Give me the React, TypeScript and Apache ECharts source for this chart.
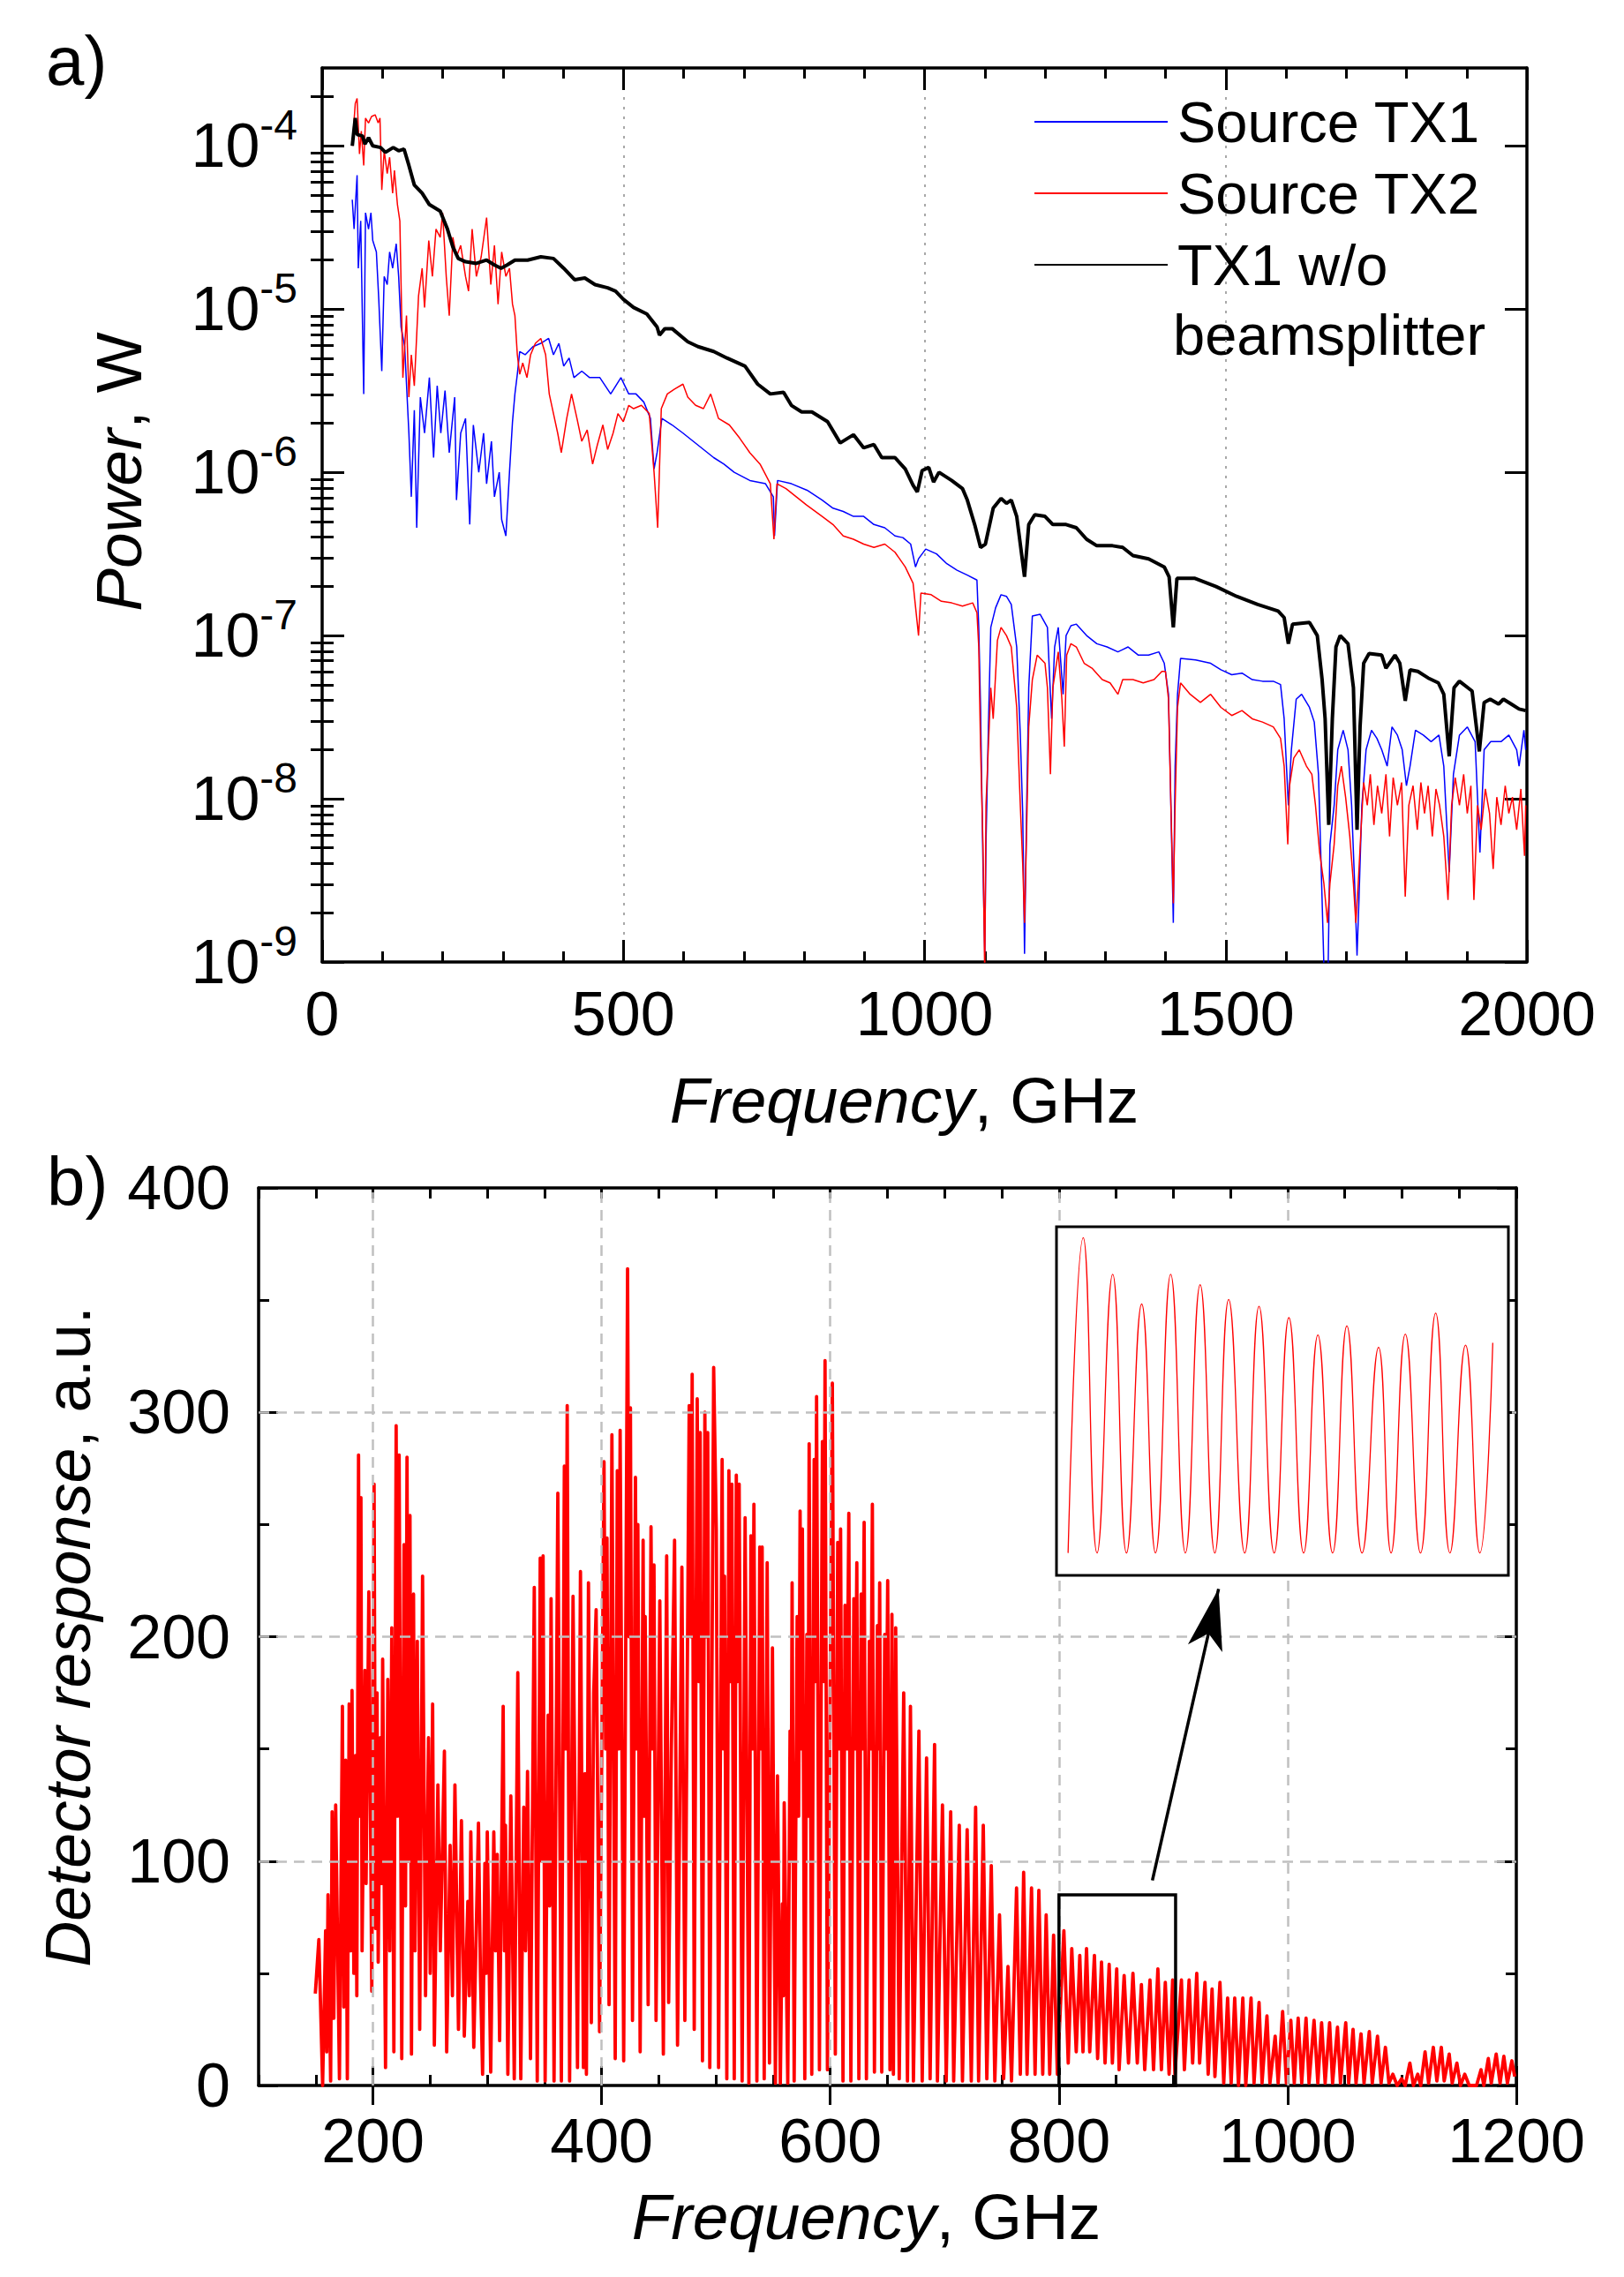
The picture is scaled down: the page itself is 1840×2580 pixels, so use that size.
import { useEffect, useRef } from 'react';
import * as echarts from 'echarts';

const FONT = "'Liberation Sans', Arial, Helvetica, sans-serif";

// ---------- Panel a: [frequency GHz, log10(power / W)] ----------
const tx1: [number, number][] = [
  [50,-4.33],[53,-4.51],[58,-4.18],[60,-4.75],[64,-4.46],[69,-5.52],[72,-4.41],[77,-4.51],[81,-4.41],[84,-4.58],
  [90,-4.65],[94,-4.94],[99,-5.38],[103,-4.80],[108,-4.85],[112,-4.65],[117,-4.75],[123,-4.60],[127,-4.80],[131,-5.11],
  [137,-5.23],[144,-5.76],[148,-6.15],[153,-5.62],[157,-6.34],[163,-5.54],[170,-5.76],[178,-5.42],[185,-5.91],[191,-5.47],
  [197,-5.76],[204,-5.50],[211,-5.88],[220,-5.54],[223,-6.17],[230,-5.76],[238,-5.67],[245,-6.32],[251,-5.71],[260,-6.00],
  [268,-5.76],[273,-6.07],[281,-5.81],[286,-6.15],[294,-6.00],[298,-6.29],[305,-6.39],[311,-6.00],[316,-5.69],[320,-5.52],
  [324,-5.40],[328,-5.26],[337,-5.28],[350,-5.23],[363,-5.21],[376,-5.18],[384,-5.28],[393,-5.21],[401,-5.35],[410,-5.30],
  [418,-5.42],[431,-5.38],[444,-5.42],[461,-5.42],[479,-5.52],[496,-5.42],[509,-5.52],[521,-5.52],[534,-5.57],[545,-5.67],
  [551,-5.98],[556,-5.88],[564,-5.67],[581,-5.71],[599,-5.76],[616,-5.81],[633,-5.86],[650,-5.91],[667,-5.95],[684,-6.00],
  [710,-6.05],[736,-6.07],[749,-6.15],[751,-6.39],[756,-6.05],[779,-6.07],[805,-6.11],[830,-6.17],[848,-6.22],[865,-6.24],
  [882,-6.27],[899,-6.27],[916,-6.32],[934,-6.34],[951,-6.39],[964,-6.40],[977,-6.44],[985,-6.58],[990,-6.53],[1002,-6.47],
  [1020,-6.50],[1037,-6.56],[1054,-6.60],[1071,-6.63],[1087,-6.66],[1090,-6.95],[1093,-7.44],[1097,-8.40],[1100,-8.95],[1102,-8.28],
  [1106,-7.56],[1110,-6.95],[1118,-6.83],[1127,-6.75],[1136,-6.76],[1144,-6.81],[1153,-7.07],[1159,-7.61],[1163,-8.09],[1166,-8.95],
  [1169,-8.16],[1173,-7.32],[1179,-6.88],[1192,-6.87],[1204,-6.95],[1209,-7.36],[1211,-7.51],[1216,-7.07],[1222,-6.95],[1230,-7.36],
  [1235,-7.00],[1243,-6.94],[1252,-6.93],[1269,-7.00],[1286,-7.05],[1303,-7.07],[1321,-7.10],[1338,-7.07],[1355,-7.12],[1372,-7.12],
  [1389,-7.10],[1398,-7.17],[1405,-7.36],[1409,-8.04],[1413,-8.76],[1416,-7.80],[1420,-7.36],[1425,-7.14],[1450,-7.15],[1475,-7.17],
  [1492,-7.21],[1510,-7.24],[1527,-7.23],[1544,-7.27],[1561,-7.28],[1579,-7.28],[1591,-7.30],[1597,-7.51],[1604,-8.04],[1609,-7.70],
  [1617,-7.39],[1626,-7.36],[1639,-7.44],[1647,-7.53],[1654,-7.85],[1660,-8.62],[1665,-9.30],[1669,-9.30],[1673,-8.28],[1680,-8.04],
  [1686,-7.70],[1695,-7.58],[1703,-7.70],[1709,-8.04],[1714,-8.52],[1718,-8.96],[1721,-8.64],[1726,-8.04],[1733,-7.70],[1742,-7.58],
  [1751,-7.63],[1759,-7.70],[1768,-7.80],[1776,-7.56],[1785,-7.61],[1793,-7.70],[1800,-7.92],[1806,-7.80],[1815,-7.58],[1828,-7.61],
  [1841,-7.65],[1854,-7.61],[1862,-7.80],[1871,-8.45],[1878,-7.85],[1888,-7.61],[1901,-7.56],[1914,-7.65],[1922,-8.33],[1929,-7.70],
  [1940,-7.65],[1957,-7.65],[1970,-7.61],[1983,-7.70],[1987,-7.80],[1995,-7.58],[1998,-7.70],
];

const tx2: [number, number][] = [
  [50,-4.00],[55,-3.74],[58,-3.71],[62,-4.05],[65,-3.91],[69,-4.12],[72,-3.83],[77,-3.86],[82,-3.82],[88,-3.81],
  [93,-3.86],[96,-3.83],[99,-4.27],[103,-4.03],[108,-4.17],[112,-4.07],[117,-4.29],[120,-4.15],[125,-4.36],[129,-4.46],
  [134,-5.42],[140,-5.04],[144,-5.54],[148,-5.28],[153,-5.47],[160,-4.92],[166,-4.75],[170,-4.99],[177,-4.58],[183,-4.80],
  [189,-4.51],[196,-4.56],[200,-4.41],[206,-4.80],[211,-5.04],[217,-4.56],[223,-4.68],[230,-4.61],[238,-4.80],[243,-4.89],
  [249,-4.51],[256,-4.80],[264,-4.68],[273,-4.44],[280,-4.85],[286,-4.61],[292,-4.97],[298,-4.65],[305,-4.80],[311,-4.75],
  [316,-4.97],[320,-5.04],[324,-5.28],[328,-5.40],[333,-5.33],[340,-5.42],[346,-5.28],[354,-5.21],[363,-5.18],[371,-5.28],
  [377,-5.52],[384,-5.64],[391,-5.76],[397,-5.88],[406,-5.67],[414,-5.52],[423,-5.67],[431,-5.81],[440,-5.74],[449,-5.95],
  [457,-5.83],[466,-5.71],[474,-5.86],[483,-5.76],[491,-5.64],[500,-5.69],[509,-5.59],[517,-5.61],[530,-5.59],[543,-5.64],
  [551,-6.00],[557,-6.34],[563,-5.61],[573,-5.52],[585,-5.49],[599,-5.46],[607,-5.54],[620,-5.59],[633,-5.61],[645,-5.52],
  [658,-5.67],[676,-5.71],[693,-5.79],[710,-5.88],[727,-5.95],[744,-6.07],[750,-6.41],[755,-6.07],[770,-6.10],[787,-6.15],
  [804,-6.20],[830,-6.27],[848,-6.32],[865,-6.39],[882,-6.41],[899,-6.44],[916,-6.46],[934,-6.44],[951,-6.49],[968,-6.58],
  [981,-6.68],[990,-7.00],[994,-6.74],[1011,-6.75],[1028,-6.79],[1045,-6.80],[1063,-6.82],[1080,-6.80],[1087,-6.86],[1090,-7.07],
  [1093,-7.68],[1097,-8.28],[1100,-9.10],[1102,-8.04],[1106,-7.68],[1110,-7.32],[1114,-7.51],[1121,-7.03],[1127,-6.95],[1136,-7.00],
  [1144,-7.07],[1153,-7.44],[1159,-8.04],[1163,-8.40],[1166,-8.76],[1169,-8.28],[1173,-7.56],[1179,-7.27],[1187,-7.12],[1200,-7.17],
  [1204,-7.32],[1209,-7.85],[1213,-7.32],[1222,-7.10],[1228,-7.39],[1232,-7.68],[1236,-7.12],[1243,-7.05],[1252,-7.07],[1265,-7.17],
  [1278,-7.20],[1295,-7.27],[1308,-7.29],[1321,-7.36],[1329,-7.27],[1346,-7.27],[1363,-7.29],[1381,-7.27],[1394,-7.22],[1400,-7.22],
  [1405,-7.39],[1409,-8.04],[1413,-8.64],[1416,-8.04],[1420,-7.44],[1425,-7.29],[1441,-7.36],[1458,-7.41],[1475,-7.36],[1492,-7.44],
  [1510,-7.49],[1527,-7.46],[1544,-7.51],[1561,-7.53],[1579,-7.56],[1591,-7.63],[1597,-7.80],[1603,-8.28],[1606,-7.92],[1613,-7.75],
  [1622,-7.70],[1634,-7.80],[1643,-7.85],[1649,-8.04],[1656,-8.33],[1663,-8.52],[1669,-8.76],[1673,-8.52],[1680,-8.28],[1686,-7.92],
  [1692,-7.80],[1699,-7.99],[1706,-8.23],[1712,-8.52],[1716,-8.76],[1720,-8.52],[1725,-8.16],[1729,-7.90],[1735,-8.04],[1740,-7.85],
  [1746,-8.16],[1752,-7.92],[1759,-8.09],[1766,-7.85],[1772,-8.23],[1778,-7.87],[1785,-8.04],[1792,-7.90],[1798,-8.60],[1804,-8.04],
  [1811,-7.92],[1818,-8.19],[1824,-7.90],[1830,-8.09],[1836,-7.92],[1843,-8.23],[1849,-7.94],[1855,-8.04],[1862,-8.23],[1869,-8.62],
  [1875,-8.04],[1881,-7.87],[1888,-8.04],[1895,-7.85],[1901,-8.09],[1907,-7.92],[1912,-8.62],[1918,-8.04],[1924,-8.19],[1931,-7.94],
  [1938,-8.09],[1944,-8.43],[1950,-7.99],[1957,-8.16],[1964,-7.92],[1970,-8.09],[1976,-7.99],[1983,-8.19],[1990,-7.94],[1996,-8.35],
  [1998,-8.04],
];

const tx1NoSplitter: [number, number][] = [
  [50,-4.00],[55,-3.83],[58,-3.93],[67,-3.94],[71,-3.99],[77,-3.95],[84,-4.00],[97,-4.01],[105,-4.04],[118,-4.01],
  [127,-4.03],[136,-4.02],[144,-4.12],[153,-4.24],[166,-4.29],[178,-4.36],[196,-4.40],[208,-4.51],[217,-4.62],[226,-4.69],
  [238,-4.71],[256,-4.72],[273,-4.70],[286,-4.73],[297,-4.75],[307,-4.73],[320,-4.70],[341,-4.70],[363,-4.68],[384,-4.69],
  [401,-4.75],[419,-4.82],[436,-4.81],[453,-4.85],[474,-4.87],[487,-4.89],[500,-4.94],[517,-4.99],[539,-5.03],[556,-5.11],
  [560,-5.16],[569,-5.12],[581,-5.12],[607,-5.20],[624,-5.23],[650,-5.26],[672,-5.30],[702,-5.35],[723,-5.46],[744,-5.52],
  [766,-5.51],[779,-5.59],[796,-5.63],[813,-5.63],[839,-5.69],[860,-5.82],[882,-5.77],[899,-5.85],[916,-5.83],[929,-5.91],
  [951,-5.91],[968,-5.98],[981,-6.08],[988,-6.12],[996,-5.99],[1007,-5.97],[1015,-6.06],[1024,-6.00],[1045,-6.05],[1063,-6.10],
  [1071,-6.17],[1084,-6.33],[1093,-6.46],[1101,-6.44],[1114,-6.22],[1127,-6.16],[1136,-6.19],[1144,-6.17],[1153,-6.27],[1166,-6.64],
  [1173,-6.32],[1183,-6.26],[1200,-6.27],[1213,-6.32],[1235,-6.32],[1252,-6.34],[1269,-6.41],[1286,-6.45],[1312,-6.45],[1329,-6.46],
  [1346,-6.51],[1372,-6.53],[1398,-6.58],[1406,-6.64],[1413,-6.95],[1419,-6.65],[1449,-6.65],[1484,-6.70],[1518,-6.76],[1553,-6.81],
  [1587,-6.85],[1597,-6.89],[1604,-7.05],[1611,-6.93],[1639,-6.92],[1652,-7.00],[1660,-7.27],[1665,-7.51],[1671,-8.16],[1677,-7.51],
  [1683,-7.07],[1690,-7.00],[1703,-7.05],[1712,-7.32],[1718,-8.19],[1723,-7.56],[1729,-7.17],[1738,-7.11],[1759,-7.12],[1766,-7.20],
  [1781,-7.12],[1789,-7.17],[1798,-7.40],[1806,-7.21],[1819,-7.22],[1836,-7.26],[1853,-7.29],[1862,-7.36],[1871,-7.74],[1879,-7.32],
  [1888,-7.28],[1909,-7.34],[1921,-7.71],[1929,-7.41],[1939,-7.39],[1953,-7.42],[1961,-7.39],[1974,-7.42],[1987,-7.45],[1998,-7.46],
];

const powerTicks = [1e-9, 1e-8, 1e-7, 1e-6, 1e-5, 1e-4];
const powerGrid = [1e-8, 1e-7, 1e-6, 1e-5, 1e-4];
const powerMinorTicks: number[] = [];
for (let e = -9; e <= -4; e++) {
  for (let k = 2; k <= 9; k++) {
    const v = k * Math.pow(10, e);
    if (v < 3e-4) powerMinorTicks.push(v);
  }
}

// ---------- Panel b: [frequency GHz, detector response a.u.] ----------
const response: [number, number][] = [
  [149.6,41],[152.7,65],[156,0],[158.6,69],[159.6,15],[160.7,85],[163,2],[164.3,122],[165.8,30],[167.4,125],
  [170.7,3],[173.3,169],[174.5,35],[176.1,145],[177.6,3],[179.2,170],[180.5,60],[181.7,176],[183.3,50],[184.8,147],
  [185.9,40],[187.4,281],[188.5,120],[189.5,262],[190.5,60],[193,185],[194,90],[196.4,220],[199,42],[201,268],
  [202.3,70],[203.6,175],[204.6,55],[206.5,155],[207.5,90],[208.5,190],[211,8],[213,181],[214.7,60],[216.5,204],
  [218.3,15],[220.3,294],[221.6,120],[222.9,281],[225.2,12],[227.2,241],[228.5,80],[229.8,280],[231,100],[232.4,254],
  [233.7,14],[235.5,219],[236.8,60],[238.8,198],[240.9,25],[243.4,227],[246,40],[248.6,155],[250.1,50],[252.2,170],
  [253.7,18],[256.8,134],[258.9,60],[262.5,149],[264.5,15],[267.5,107],[269.5,40],[271.7,134],[274.8,25],[277.4,118],
  [279.9,22],[283,82],[284.3,40],[285.6,113],[288.2,17],[292.3,117],[294,50],[295.9,5],[297.9,99],[299,50],
  [300,113],[303,6],[305.7,113],[307.2,60],[308.7,103],[310.8,20],[313.9,169],[315,60],[315.9,116],[318,5],
  [320.6,129],[323.6,3],[326.7,184],[329.3,3],[331.9,124],[333.5,60],[335.2,140],[337.8,12],[341.1,222],[343.7,2],
  [346.3,235],[347.5,100],[348.8,236],[350.6,2],[353.2,165],[354.5,80],[355.8,217],[358.4,2],[361.7,264],[364.8,2],
  [367.4,276],[368.6,150],[369.9,303],[372,2],[375,218],[378.9,8],[381.5,229],[384.1,8],[385.4,139],[386.7,5],
  [388.5,224],[391,28],[393.1,175],[395.2,212],[398.2,24],[402.1,278],[403.5,150],[404.7,244],[406.5,36],[409,290],
  [411.9,12],[413.7,274],[415,150],[416.2,292],[419.3,11],[422.7,364],[424,200],[425.2,302],[427,29],[429.6,271],
  [430.7,150],[431.7,250],[433.7,15],[436.3,243],[437.2,120],[438.1,209],[440.7,36],[443.2,249],[444.5,150],[445.8,232],
  [447.6,29],[450.9,216],[454,14],[456.9,236],[458.6,37],[461,150],[463.8,243],[466.4,18],[470.2,231],[472.8,29],
  [476.6,303],[478,200],[479.2,317],[481,25],[483.6,306],[485,180],[486.2,291],[488.2,11],[490.3,300],[491.5,200],
  [492.8,291],[494.6,8],[498,320],[500.3,248],[502.3,8],[505.4,279],[506.5,150],[507.5,227],[509.5,3],[511.3,274],
  [512.6,180],[513.9,268],[516,3],[517.8,272],[519,180],[520.3,268],[522.9,2],[525.5,253],[528.8,1],[530.6,245],
  [532,150],[533.2,259],[535.8,2],[538.3,240],[539.4,150],[540.4,240],[542.2,3],[544.8,233],[546.8,10],[549.4,195],
  [552,1],[553.8,138],[556.3,1],[558.1,81],[559,40],[559.7,126],[562.8,1],[564.8,158],[565.7,100],[566.6,224],
  [568.4,2],[571,209],[572.3,120],[573.6,256],[574.6,150],[575.6,248],[577.7,3],[579.5,201],[580.5,120],[581.5,286],
  [583.8,5],[585.9,279],[587,180],[588,307],[590.5,7],[593.1,287],[594.3,180],[595.4,323],[597.5,7],[601.8,313],
  [604.4,14],[606.5,242],[607.8,150],[609,248],[611.1,2],[612.9,214],[614.5,150],[616.2,255],[618,2],[620.6,217],
  [621.9,150],[623.2,233],[625,3],[627,219],[628.3,150],[629.6,251],[631.6,3],[634.2,198],[635.5,150],[636.8,259],
  [638.6,6],[641.2,205],[642.2,150],[643.2,224],[645,6],[647.6,201],[649,150],[650.2,225],[652.2,7],[653.9,210],
  [655.2,5],[657.2,204],[660.3,3],[664.2,175],[667.5,2],[670.1,169],[672.7,2],[677.5,158],[680.4,2],[684.2,146],
  [687.3,3],[691.2,152],[693.7,2],[698.1,125],[701.4,2],[705.3,122],[707.9,2],[712.8,116],[715.6,2],[719.7,114],
  [723.3,2],[727.1,124],[729.7,2],[733.8,116],[736.9,3],[740.8,98],[743.9,2],[748,76],[751.6,3],[755.4,53],
  [758.5,2],[762.9,88],[766.2,5],[769.1,95],[772.1,5],[776,88],[779.1,5],[782.4,87],[785.8,5],[788.8,76],
  [791.9,5],[795.3,67],[798.6,5],[804.3,69],[808.1,10],[811.2,61],[815.1,15],[818.2,58],[821,15],[824.1,61],
  [826.9,15],[831,58],[833.8,12],[837.2,55],[840.3,10],[843.9,54],[846.7,10],[850.5,52],[852.6,7],[857,49],
  [860.8,10],[864.7,50],[868.5,10],[872.1,45],[875,7],[879.6,47],[882.7,7],[886.5,52],[889.6,7],[893,46],
  [896.3,5],[899.4,47],[901.4,5],[907.1,47],[909.7,7],[913.8,47],[916.9,10],[920.5,50],[923,10],[927.7,46],
  [930.5,5],[933.9,43],[936.4,4],[940.8,46],[944.1,1],[947.5,39],[950.6,1],[953.7,39],[957,0],[960.8,39],
  [963.4,0],[968,39],[970.6,1],[975,37],[977.6,1],[981.9,31],[984.5,1],[989.1,22],[991.7,1],[995.6,33],
  [998.9,1],[1002.8,29],[1005.8,1],[1009.2,30],[1012.3,1],[1016.1,30],[1018.7,1],[1023.1,29],[1026.4,1],[1029.7,28],
  [1032.8,1],[1036.7,28],[1039.3,1],[1043.6,26],[1046.2,1],[1050.8,28],[1053.4,1],[1057.2,25],[1059.8,1],[1064.2,23],
  [1066.8,1],[1071.4,24],[1074,1],[1078.6,22],[1081.7,1],[1085.5,17],[1088.6,1],[1092,5],[1095.8,0],[1099.7,3],
  [1102.8,0],[1106.9,10],[1110,0],[1113.8,5],[1116.4,0],[1120.2,15],[1123.3,1],[1127.4,17],[1130.5,2],[1134.4,17],
  [1136.9,2],[1141.3,14],[1143.9,1],[1148,10],[1151.1,0],[1154.9,5],[1158.8,0],[1165.2,0],[1169.1,7],[1171.6,0],
  [1175.5,12],[1178.1,1],[1182.4,14],[1185.8,1],[1189.1,13],[1192.2,1],[1196.1,11],[1198.6,4],
];

// Inset: magnified 800–900 GHz fringes
const insetFreq = [800, 803.4, 806.5, 810, 813.1, 816.5, 819.6, 823, 826.3, 829.6, 832.9, 836, 839.6, 842.8, 846.2,
  849.5, 852.8, 856, 859.3, 862.5, 865.9, 869.6, 872.4, 875.6, 879, 882.4, 885.6, 889.1, 892.3, 895.2];
const insetResp = [0, 69, 0, 61, 0, 54.5, 0, 61, 0, 58.7, 0, 55.5, 0, 54, 0, 51.5, 0, 47.7, 0, 49.7,
  0, 45, 0, 47.9, 0, 52.5, 0, 45.5, 0, 46];

const freqMajorB = [200, 400, 600, 800, 1000, 1200];
const freqGridB = [200, 400, 600, 800, 1000];
const respGridB = [100, 200, 300];
const zoomBox = [[800, 0], [902, 85]];
const arrowFrom = [881.7, 91.4];
const arrowTo = [939.6, 221.3];

const legendNames = ['Source TX1', 'Source TX2', 'TX1 w/o beamsplitter'];

const toW = (d: [number, number][]) => d.map(([f, e]) => [f, Math.pow(10, e)]);

export default function App() {
  const ref = useRef<HTMLDivElement>(null);

  useEffect(() => {
    if (!ref.current) return;
    const chart = echarts.init(ref.current, undefined, { renderer: 'svg' });

    const black = '#000';
    const axisLine = { show: true, onZero: false, lineStyle: { color: black, width: 3.5 } };
    const tickLine = { color: black, width: 3 };
    const labelStyle = { fontSize: 70, color: black, fontFamily: FONT };
    const nameStyle = (fs: number, padding: number[]) => ({
      fontSize: fs, color: black, fontFamily: FONT, padding,
      rich: {
        i: { fontSize: fs, fontStyle: 'italic', fontFamily: FONT, color: black },
        n: { fontSize: fs, fontFamily: FONT, color: black },
      },
    });
    const hidden = { show: false };

    const option: any = {
      animation: false,
      backgroundColor: '#fff',
      textStyle: { fontFamily: FONT },
      grid: [
        { left: 365, top: 77, width: 1365, height: 1013 },
        { left: 293, top: 1346, width: 1425, height: 1017 },
        { left: 1197, top: 1390, width: 512, height: 395, show: true, borderColor: black, borderWidth: 3, backgroundColor: '#fff', z: 10 },
      ],
      legend: {
        data: legendNames,
        orient: 'vertical',
        left: 1166,
        top: 98,
        itemWidth: 151,
        itemHeight: 2,
        itemGap: 11,
        selectedMode: false,
        formatter: (n: string) => (n === 'TX1 w/o beamsplitter' ? 'TX1 w/o' : n),
        textStyle: { fontSize: 65, lineHeight: 70, color: black, fontFamily: FONT, padding: [0, 0, 0, 6] },
      },
      xAxis: [
        {
          type: 'value', gridIndex: 0, min: 0, max: 2000, interval: 500, position: 'bottom',
          axisLine,
          axisTick: { show: true, inside: true, length: 25, lineStyle: tickLine },
          minorTick: { show: true, splitNumber: 5, length: 12, lineStyle: tickLine },
          axisLabel: { ...labelStyle, margin: 24, formatter: (v: number) => String(v) },
          splitLine: { show: true, lineStyle: { color: '#a8a8a8', width: 2, type: [3, 8] } },
          name: '{i|Frequency}{n|, GHz}', nameLocation: 'middle', nameGap: 120,
          nameTextStyle: nameStyle(73, [0, 46, 0, 0]),
        },
        {
          type: 'value', gridIndex: 0, min: 0, max: 2000, interval: 500, position: 'top',
          axisLine,
          axisTick: { show: true, inside: true, length: 25, lineStyle: tickLine },
          minorTick: { show: true, splitNumber: 5, length: 12, lineStyle: tickLine },
          axisLabel: hidden, splitLine: hidden,
        },
        {
          type: 'value', gridIndex: 1, min: 100, max: 1200, interval: 50, position: 'bottom',
          axisLine,
          axisTick: { show: true, inside: true, length: 12, lineStyle: tickLine },
          axisLabel: { ...labelStyle, margin: 28, formatter: (v: number) => (v % 200 === 0 ? String(v) : '') },
          splitLine: hidden,
          name: '{i|Frequency}{n|, GHz}', nameLocation: 'middle', nameGap: 112,
          nameTextStyle: nameStyle(73, [0, 48, 0, 0]),
        },
        {
          type: 'value', gridIndex: 1, min: 100, max: 1200, position: 'bottom',
          axisLine: hidden,
          axisTick: { show: true, inside: true, length: 22, lineStyle: tickLine, customValues: freqMajorB },
          axisLabel: hidden, splitLine: hidden,
        },
        {
          type: 'value', gridIndex: 1, min: 100, max: 1200, interval: 50, position: 'top',
          axisLine,
          axisTick: { show: true, inside: true, length: 12, lineStyle: tickLine },
          axisLabel: hidden, splitLine: hidden,
        },
        {
          type: 'value', gridIndex: 1, min: 100, max: 1200, position: 'top',
          axisLine: hidden,
          axisTick: { show: true, inside: true, length: 22, lineStyle: tickLine, customValues: freqMajorB },
          axisLabel: hidden, splitLine: hidden,
        },
        { type: 'value', gridIndex: 2, min: 797.4, max: 898.7, show: false },
      ],
      yAxis: [
        {
          type: 'log', logBase: 10, gridIndex: 0, min: 1e-9, max: 3e-4, position: 'left',
          axisLine,
          axisTick: { show: true, inside: true, length: 25, lineStyle: tickLine, customValues: powerTicks },
          axisLabel: {
            customValues: powerTicks,
            margin: 28,
            formatter: (v: number) => `{b|10}{s|${Math.round(Math.log10(v))}}`,
            rich: {
              b: { fontSize: 70, lineHeight: 96, fontFamily: FONT, color: black },
              s: { fontSize: 48, lineHeight: 48, verticalAlign: 'top', fontFamily: FONT, color: black },
            },
          },
          splitLine: hidden, minorTick: hidden,
          name: '{i|Power}{n|, W}', nameLocation: 'middle', nameRotate: 90, nameGap: 194,
          nameTextStyle: nameStyle(73, [0, 0, 0, 98]),
        },
        {
          type: 'log', logBase: 10, gridIndex: 0, min: 1e-9, max: 3e-4, position: 'left',
          axisLine: hidden,
          axisTick: { show: true, inside: true, length: 13, lineStyle: tickLine, customValues: powerMinorTicks },
          axisLabel: hidden, splitLine: hidden,
        },
        {
          type: 'log', logBase: 10, gridIndex: 0, min: 1e-9, max: 3e-4, position: 'right',
          axisLine,
          axisTick: { show: true, inside: true, length: 25, lineStyle: tickLine, customValues: powerTicks },
          axisLabel: hidden, splitLine: hidden,
        },
        {
          type: 'log', logBase: 10, gridIndex: 0, min: 1e-9, max: 3e-4, position: 'right',
          axisLine: hidden,
          axisTick: { show: true, inside: true, length: 13, lineStyle: tickLine, customValues: powerMinorTicks },
          axisLabel: hidden, splitLine: hidden,
        },
        {
          type: 'value', gridIndex: 1, min: 0, max: 400, interval: 100, position: 'left',
          axisLine,
          axisTick: { show: true, inside: true, length: 22, lineStyle: tickLine },
          minorTick: { show: true, splitNumber: 2, length: 12, lineStyle: tickLine },
          axisLabel: { ...labelStyle, margin: 32 },
          splitLine: hidden,
          name: '{i|Detector response}{n|, a.u.}', nameLocation: 'middle', nameRotate: 90, nameGap: 180,
          nameTextStyle: nameStyle(72, [0, 0, 0, 0]),
        },
        {
          type: 'value', gridIndex: 1, min: 0, max: 400, interval: 100, position: 'right',
          axisLine,
          axisTick: { show: true, inside: true, length: 22, lineStyle: tickLine },
          minorTick: { show: true, splitNumber: 2, length: 12, lineStyle: tickLine },
          axisLabel: hidden, splitLine: hidden,
        },
        { type: 'value', gridIndex: 2, min: -4.9, max: 71.4, show: false },
      ],
      series: [
        {
          name: 'Source TX1', type: 'line', xAxisIndex: 0, yAxisIndex: 0,
          data: toW(tx1), showSymbol: false, symbol: 'none',
          lineStyle: { color: '#0000ff', width: 1.5 }, itemStyle: { color: '#0000ff' },
          markLine: {
            silent: true, symbol: 'none', z: 1, label: { show: false },
            lineStyle: { color: '#a8a8a8', width: 2, type: [3, 8] },
            data: powerGrid.map((v) => ({ yAxis: v })),
          },
        },
        {
          name: 'Source TX2', type: 'line', xAxisIndex: 0, yAxisIndex: 0,
          data: toW(tx2), showSymbol: false, symbol: 'none',
          lineStyle: { color: '#ff0000', width: 1.5 }, itemStyle: { color: '#ff0000' },
        },
        {
          name: 'TX1 w/o beamsplitter', type: 'line', xAxisIndex: 0, yAxisIndex: 0,
          data: toW(tx1NoSplitter), showSymbol: false, symbol: 'none',
          lineStyle: { color: black, width: 4 }, itemStyle: { color: black },
        },
        {
          name: 'Detector response', type: 'line', xAxisIndex: 2, yAxisIndex: 4,
          data: response, showSymbol: false, symbol: 'none',
          lineStyle: { color: '#ff0000', width: 3.8, join: 'round' }, itemStyle: { color: '#ff0000' },
          markArea: {
            silent: true, z: 6, label: { show: false },
            itemStyle: { color: 'rgba(0,0,0,0)', borderColor: black, borderWidth: 3.5 },
            data: [[{ coord: zoomBox[0] }, { coord: zoomBox[1] }]],
          },
          markLine: {
            silent: true, z: 6, label: { show: false },
            lineStyle: { color: black, width: 3.5, type: 'solid' },
            data: [[
              { coord: arrowFrom, symbol: 'none' },
              { coord: arrowTo, symbol: 'arrow', symbolSize: [30, 69] },
            ]],
          },
        },
        {
          name: 'grid-b', type: 'line', xAxisIndex: 2, yAxisIndex: 4, data: [],
          markLine: {
            silent: true, symbol: 'none', z: 5, label: { show: false },
            lineStyle: { color: '#c0c0c0', width: 2.5, type: [12, 8] },
            data: [
              ...freqGridB.map((v) => ({ xAxis: v })),
              ...respGridB.map((v) => ({ yAxis: v })),
            ],
          },
        },
        {
          name: 'Inset', type: 'line', xAxisIndex: 6, yAxisIndex: 6, z: 11,
          data: insetFreq.map((f, i) => [f, insetResp[i]]),
          showSymbol: false, symbol: 'none', smooth: true,
          lineStyle: { color: '#ff0000', width: 1.3 },
        },
      ],
      graphic: [
        { type: 'text', left: 52, top: 30, style: { text: 'a)', fontSize: 78, fontFamily: FONT, fill: black } },
        { type: 'text', left: 53, top: 1300, style: { text: 'b)', fontSize: 78, fontFamily: FONT, fill: black } },
        { type: 'text', left: 1329, top: 347, style: { text: 'beamsplitter', fontSize: 65, fontFamily: FONT, fill: black } },
      ],
    };

    chart.setOption(option);
    return () => chart.dispose();
  }, []);

  return (
    <div
      ref={ref}
      style={{ position: 'absolute', left: 0, top: 0, width: 1840, height: 2580, background: '#fff' }}
    />
  );
}
